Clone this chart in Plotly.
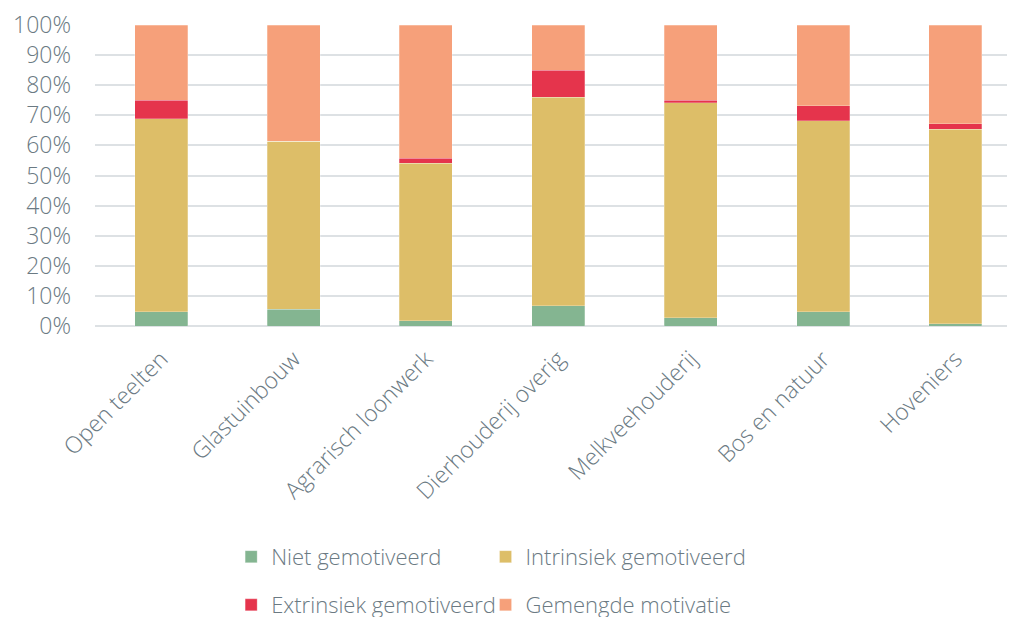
import plotly.graph_objects as go

categories = ["Open teelten", "Glastuinbouw", "Agrarisch loonwerk", "Dierhouderij overig",
              "Melkveehouderij", "Bos en natuur", "Hoveniers"]

niet = [4.7, 5.6, 1.7, 6.8, 2.7, 4.7, 0.7]
intrinsiek = [64.2, 55.8, 52.3, 69.2, 71.4, 63.5, 64.6]
extrinsiek = [6.1, 0.0, 1.7, 9.0, 0.9, 4.9, 1.9]
gemengd = [25.0, 38.6, 44.3, 15.0, 25.0, 26.9, 32.8]

grey = "#6B7A83"
font_family = "Open Sans"

series = [
    ("Niet gemotiveerd", niet, "#84B591", "legend"),
    ("Intrinsiek gemotiveerd", intrinsiek, "#DDBE68", "legend2"),
    ("Extrinsiek gemotiveerd", extrinsiek, "#E5344C", "legend3"),
    ("Gemengde motivatie", gemengd, "#F6A07A", "legend4"),
]

fig = go.Figure()
for name, vals, col, leg in series:
    fig.add_trace(go.Bar(
        x=categories, y=vals, name=name, legend=leg, showlegend=True,
        marker=dict(color=col, line=dict(color="rgba(255,255,255,0.5)", width=0.5)),
    ))

# one legend per entry, laid out as a 2x2 grid below the x labels
legend_style = dict(
    orientation="h", xanchor="left", yanchor="middle",
    font=dict(family=font_family, size=22, color=grey, weight=300),
    bgcolor="rgba(0,0,0,0)",
)
col1, col2 = 0.148, 0.4245
row1, row2 = -0.767, -0.927

# the page body has an 8px margin, so the figure is sized to fit inside the window
fig.update_layout(
    width=1007, height=609,
    showlegend=True,
    barmode="stack", bargap=0.6,
    plot_bgcolor="white", paper_bgcolor="white",
    margin=dict(l=87, r=0, t=17, b=291, autoexpand=False),
    font=dict(family=font_family, size=22, color=grey, weight=300),
    legend=dict(x=col1, y=row1, **legend_style),
    legend2=dict(x=col2, y=row1, **legend_style),
    legend3=dict(x=col1, y=row2, **legend_style),
    legend4=dict(x=col2, y=row2, **legend_style),
)

fig.update_xaxes(
    range=[-0.5, 6.45], tickangle=-45, showline=False, ticks="",
    tickfont=dict(family=font_family, size=23, color=grey, weight=300),
    ticklabelstandoff=14,
)
fig.update_yaxes(
    range=[0, 100], dtick=10, ticksuffix="%",
    showgrid=True, gridcolor="#DDE1E4", gridwidth=2,
    zeroline=True, zerolinecolor="#DDE1E4", zerolinewidth=2,
    tickfont=dict(family=font_family, size=23, color=grey, weight=300),
    ticklabelstandoff=23,
)

fig.write_html("out.html")
